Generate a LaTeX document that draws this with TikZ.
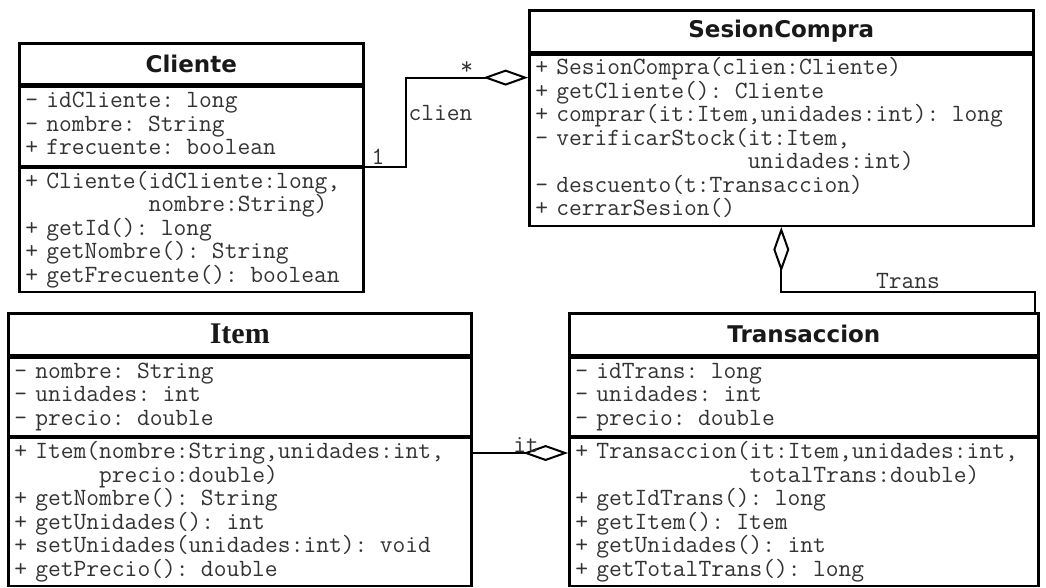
\documentclass[tikz,border=0pt]{standalone}
\usepackage{fontspec}
\usetikzlibrary{positioning,arrows.meta}

\newfontfamily\headsans{DejaVu Sans}
\newfontfamily\headserif{Liberation Serif}
\newcommand{\titlesans}{\headsans\bfseries\fontsize{23}{27}\selectfont}
\newcommand{\titleserif}{\headserif\bfseries\fontsize{30}{34}\selectfont}
\newcommand{\memberfont}{\ttfamily\fontsize{24.8}{23.5}\selectfont\lineskiplimit=-100pt}

\tikzset{
  classname/.style={draw, line width=2.6pt, inner sep=0pt, anchor=north west, font=\titlesans, text=black!90},
  members/.style={draw, line width=2.4pt, inner xsep=6pt, inner ysep=0pt, align=left,
    font=\memberfont, text=black!80, execute at begin node=\strut, execute at end node=\strut},
  aggr/.style={line width=2pt, -{Diamond[open,length=45pt,width=16pt]}},
  role/.style={font=\memberfont, text=black!80, inner sep=2pt},
}

\begin{document}
\begin{tikzpicture}[x=1pt,y=-1pt]
  \fill[white] (0,0) rectangle (1046,583);

  % Cliente
  \node[classname, minimum width=344pt, minimum height=41pt] (cliT) at (18,42) {Cliente};
  \node[members, below=0pt of cliT, text width=332pt, minimum height=79pt] (cliA)
    {- idCliente: long\\- nombre: String\\+ frecuente: boolean};
  \node[members, below=0pt of cliA, text width=332pt, minimum height=124pt] (cliM)
    {+ Cliente(idCliente:long,\\\hphantom{+ Cliente(}nombre:String)\\+ getId(): long\\+ getNombre(): String\\+ getFrecuente(): boolean};

  % SesionCompra
  \node[classname, minimum width=504pt, minimum height=42pt] (sesT) at (528,9) {SesionCompra};
  \node[members, below=0pt of sesT, text width=492pt, minimum height=171pt] (sesM)
    {+ SesionCompra(clien:Cliente)\\+ getCliente(): Cliente\\+ comprar(it:Item,unidades:int): long\\- verificarStock(it:Item,\\\hphantom{- verificarStock(}unidades:int)\\- descuento(t:Transaccion)\\+ cerrarSesion()};

  % Item
  \node[classname, font=\titleserif, minimum width=463pt, minimum height=42pt] (itmT) at (7,312) {Item};
  \node[members, below=0pt of itmT, text width=451pt, minimum height=78pt] (itmA)
    {- nombre: String\\- unidades: int\\- precio: double};
  \node[members, below=0pt of itmA, text width=451pt, minimum height=148pt] (itmM)
    {+ Item(nombre:String,unidades:int,\\\hphantom{+ Item(}precio:double)\\+ getNombre(): String\\+ getUnidades(): int\\+ setUnidades(unidades:int): void\\+ getPrecio(): double};

  % Transaccion
  \node[classname, minimum width=469pt, minimum height=42pt] (trnT) at (568,312) {Transaccion};
  \node[members, below=0pt of trnT, text width=457pt, minimum height=78pt] (trnA)
    {- idTrans: long\\- unidades: int\\- precio: double};
  \node[members, below=0pt of trnA, text width=457pt, minimum height=148pt] (trnM)
    {+ Transaccion(it:Item,unidades:int,\\\hphantom{+ Transaccion(}totalTrans:double)\\+ getIdTrans(): long\\+ getItem(): Item\\+ getUnidades(): int\\+ getTotalTrans(): long};

  % aggregations
  \draw[aggr] (cliA.south east) node[role, above right, xshift=4pt] {1} -- ++(41,0)
    |- node[role, pos=0.3, right] {clien} node[role, pos=0.75, above] {*}
    ([yshift=-24pt]sesM.north west);
  \draw[aggr] ([xshift=-5pt]trnT.north east) -- ++(0,-20)
    -| node[role, pos=0.25, above] {Trans} (sesM.south);
  \draw[aggr] ([yshift=-16pt]itmM.north east)
    -- node[role, pos=0.56, above=-3pt] {it} ([yshift=-16pt]trnM.north west);
\end{tikzpicture}
\end{document}
